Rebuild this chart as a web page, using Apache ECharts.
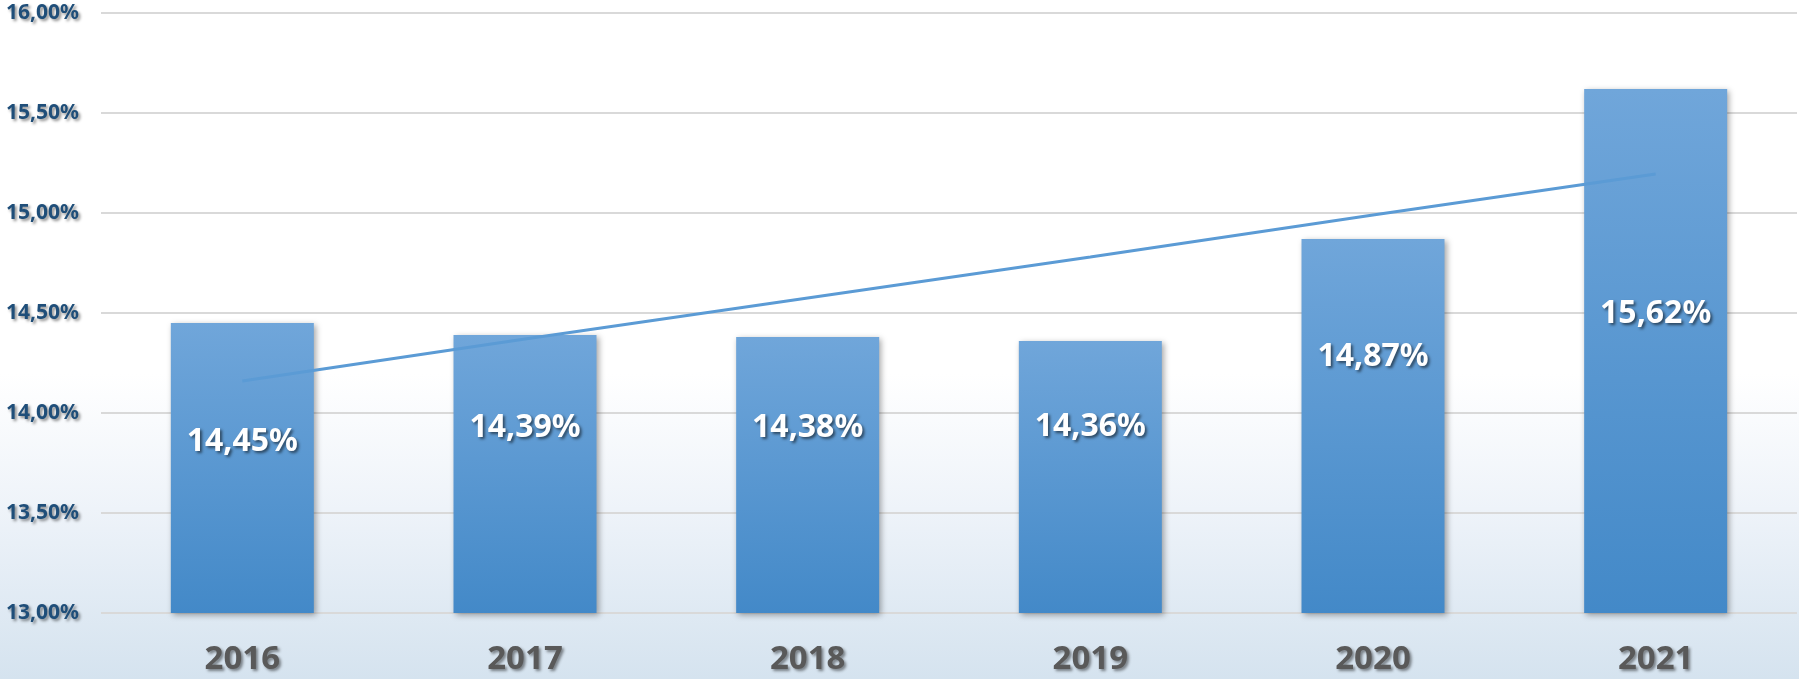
<!DOCTYPE html>
<html>
<head>
<meta charset="utf-8">
<script src="https://cdn.jsdelivr.net/npm/echarts@6/dist/echarts.min.js"></script>
<style>
html, body { margin: 0; padding: 0; }
#main {
  width: 1799px;
  height: 679px;
  background: linear-gradient(to bottom, #ffffff 0%, #ffffff 55%, #eef3f9 75%, #d5e3ef 100%);
}
</style>
</head>
<body>
<div id="main"></div>
<script>
var years = ['2016', '2017', '2018', '2019', '2020', '2021'];
var rates = [14.45, 14.39, 14.38, 14.36, 14.87, 15.62];
var trend = [14.16, 14.37, 14.575, 14.78, 14.99, 15.195];
var yTicks = { min: 13, max: 16, step: 0.5 };

// label distance from bar top (px), as placed in the original
var labelTop = [119, 93, 91, 86, 118, 225];

function pct(v) {
  return v.toFixed(2).replace('.', ',') + '%';
}

var chart = echarts.init(document.getElementById('main'));

var option = {
  backgroundColor: 'transparent',
  animation: false,
  grid: {
    left: 101,
    right: 2,
    top: 13,
    bottom: 66
  },
  xAxis: {
    type: 'category',
    data: years,
    axisLine: { show: false },
    axisTick: { show: false },
    axisLabel: {
      margin: 30,
      fontSize: 33,
      fontWeight: 'bold',
      fontFamily: 'Noto Sans',
      color: '#595959',
      textShadowColor: 'rgba(0,0,0,0.45)',
      textShadowBlur: 3,
      textShadowOffsetX: 2,
      textShadowOffsetY: 2
    }
  },
  yAxis: {
    type: 'value',
    min: yTicks.min,
    max: yTicks.max,
    interval: yTicks.step,
    axisLine: { show: false },
    axisTick: { show: false },
    splitLine: {
      lineStyle: { color: '#d9d9d9', width: 2 }
    },
    axisLabel: {
      margin: 22,
      fontSize: 21,
      fontWeight: 'bold',
      fontFamily: 'Noto Sans',
      color: '#1f4e79',
      formatter: pct,
      textShadowColor: 'rgba(0,0,0,0.45)',
      textShadowBlur: 3,
      textShadowOffsetX: 2,
      textShadowOffsetY: 2
    }
  },
  series: [
    {
      type: 'bar',
      barWidth: 143,
      data: rates.map(function (v, i) {
        return {
          value: v,
          label: { position: ['50%', labelTop[i]] }
        };
      }),
      itemStyle: {
        color: new echarts.graphic.LinearGradient(0, 0, 0, 1, [
          { offset: 0, color: '#70a6da' },
          { offset: 1, color: '#4389c8' }
        ]),
        shadowColor: 'rgba(0,0,0,0.35)',
        shadowBlur: 6,
        shadowOffsetX: 2,
        shadowOffsetY: 2
      },
      label: {
        show: true,
        align: 'center',
        verticalAlign: 'middle',
        formatter: function (p) { return pct(p.value); },
        fontSize: 32,
        fontWeight: 'bold',
        fontFamily: 'Noto Sans',
        color: '#ffffff',
        textShadowColor: 'rgba(0,0,0,0.55)',
        textShadowBlur: 3,
        textShadowOffsetX: 2,
        textShadowOffsetY: 2
      },
      z: 2
    },
    {
      type: 'line',
      data: trend,
      symbol: 'none',
      lineStyle: { color: '#5b9bd5', width: 3 },
      z: 3
    }
  ]
};

chart.setOption(option);
</script>
</body>
</html>
